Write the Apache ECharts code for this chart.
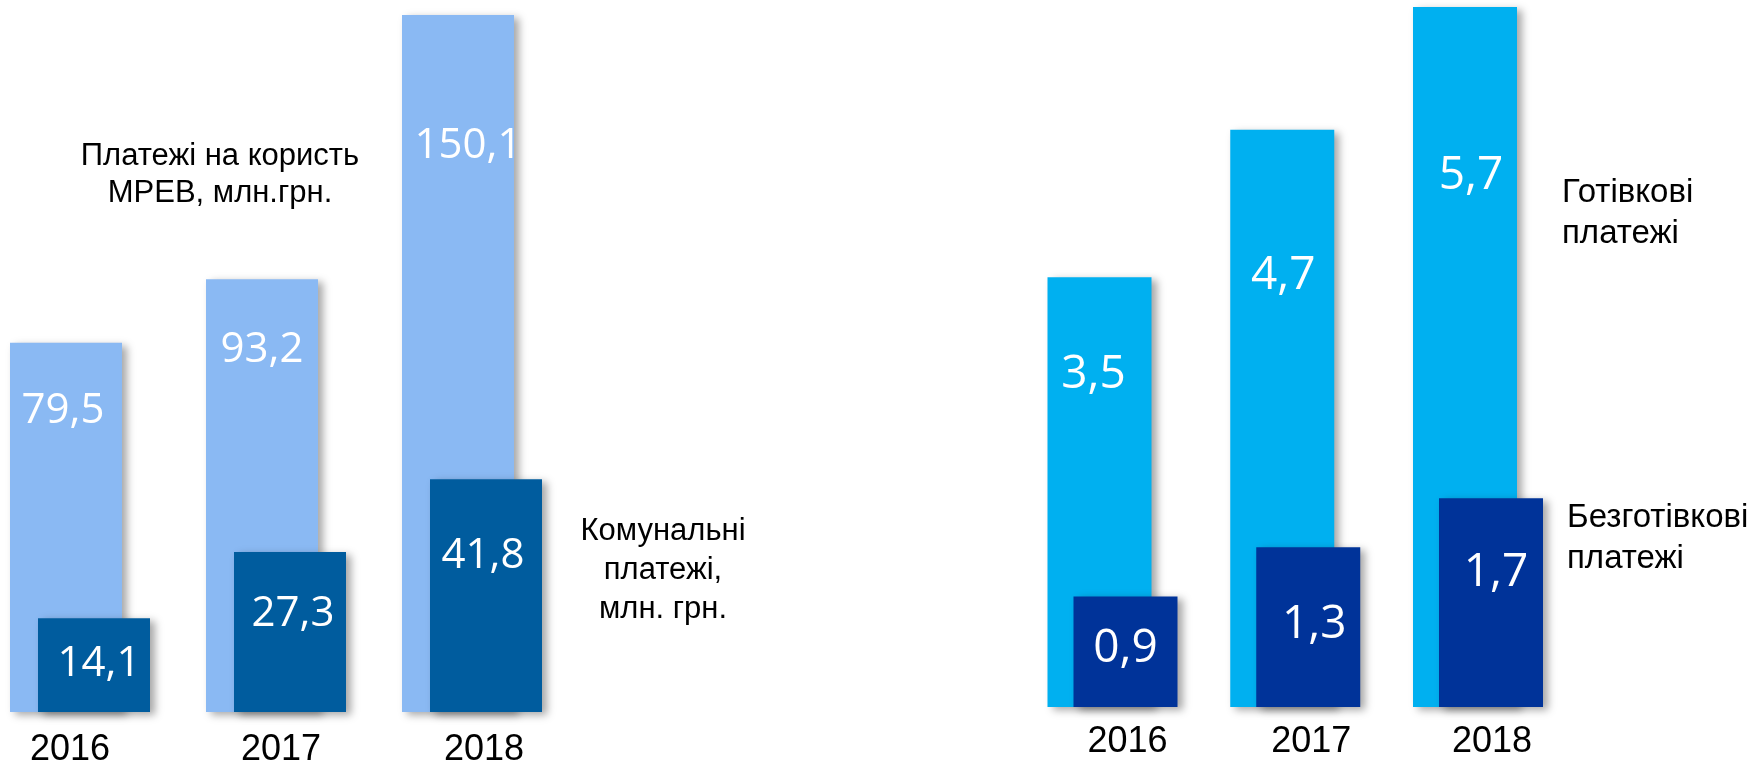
<!DOCTYPE html>
<html>
<head>
<meta charset="utf-8">
<title>Платежі</title>
<script src="https://cdn.jsdelivr.net/npm/echarts@6/dist/echarts.min.js"></script>
<style>
  html, body { margin: 0; padding: 0; background: #fff; }
  #main { width: 1764px; height: 762px; }
</style>
</head>
<body>
<div id="main"></div>
<script>
// роки
var years = ['2016', '2017', '2018'];
// платежі на користь МРЕВ, млн.грн.
var mrevPay = [79.5, 93.2, 150.1];
// комунальні платежі, млн. грн.
var utilityPay = [14.1, 27.3, 41.8];
// готівкові / безготівкові платежі
var cashPay = [3.5, 4.7, 5.7];
var cashlessPay = [0.9, 1.3, 1.7];

// зсув підписів усередині стовпців [dx, dy від верху стовпця]
var mrevLbl = [[-3, 68], [0, 71], [10, 131]];
var utilityLbl = [[5, 46], [3, 62], [-3, 77]];
var cashLbl = [[-6, 98], [1, 146], [6, 169]];
var cashlessLbl = [[0, 52], [6, 78], [5, 75]];
// зсув підписів років
var yearShiftL = [-10, 5, 12];
var yearShiftR = [15, 16, 14];

var chart = echarts.init(document.getElementById('main'));

var shadow = {
  shadowBlur: 8,
  shadowOffsetX: 5,
  shadowOffsetY: 3,
  shadowColor: 'rgba(0,0,0,0.35)'
};

function barData(vals, lbl, size) {
  return vals.map(function (v, i) {
    return {
      value: v,
      label: {
        position: ['50%', lbl[i][1]],
        offset: [lbl[i][0], 0],
        align: 'center',
        verticalAlign: 'middle',
        fontSize: size
      }
    };
  });
}

function barLabel() {
  return {
    show: true,
    color: '#fff',
    fontFamily: 'Open Sans',
    formatter: function (p) { return String(p.value).replace('.', ','); }
  };
}

function yearAxis(gridIndex, shift, margin) {
  var rich = {};
  shift.forEach(function (s, i) {
    rich['y' + i] = {
      fontFamily: 'Liberation Sans',
      fontSize: 36,
      color: '#000',
      padding: s < 0 ? [0, -2 * s, 0, 0] : [0, 0, 0, 2 * s]
    };
  });
  return {
    type: 'category',
    gridIndex: gridIndex,
    data: years,
    boundaryGap: false,
    axisLine: { show: false },
    axisTick: { show: false },
    splitLine: { show: false },
    axisLabel: {
      margin: margin,
      formatter: function (v, i) { return '{y' + i + '|' + v + '}'; },
      rich: rich
    }
  };
}

function hiddenY(gridIndex, min, max) {
  return {
    type: 'value',
    gridIndex: gridIndex,
    min: min,
    max: max,
    startValue: min,
    show: false,
    splitLine: { show: false }
  };
}

var option = {
  animation: false,
  backgroundColor: '#fff',
  // сітки: центри років 80/276/472 та 1112/1295/1478
  grid: [
    { left: 80, width: 392, top: 15, height: 697, outerBoundsMode: 'none' },
    { left: 1112.5, width: 365.5, top: 7, height: 700, outerBoundsMode: 'none' }
  ],
  xAxis: [
    yearAxis(0, yearShiftL, 20),
    yearAxis(1, yearShiftR, 17)
  ],
  yAxis: [
    hiddenY(0, 0, 150.1),
    // комунальні платежі мають власний масштаб, як в оригіналі
    hiddenY(0, -4.6, 134.3),
    hiddenY(1, 0, 5.7)
  ],
  series: [
    {
      name: 'Платежі на користь МРЕВ',
      type: 'bar',
      xAxisIndex: 0,
      yAxisIndex: 0,
      barWidth: 112,
      barGap: '-75%',
      clip: false,
      itemStyle: Object.assign({ color: '#8AB9F3' }, shadow),
      label: barLabel(),
      data: barData(mrevPay, mrevLbl, 42)
    },
    {
      name: 'Комунальні платежі',
      type: 'bar',
      xAxisIndex: 0,
      yAxisIndex: 1,
      barWidth: 112,
      barGap: '-75%',
      clip: false,
      itemStyle: Object.assign({ color: '#005C9E' }, shadow),
      label: barLabel(),
      data: barData(utilityPay, utilityLbl, 42)
    },
    {
      name: 'Готівкові платежі',
      type: 'bar',
      xAxisIndex: 1,
      yAxisIndex: 2,
      barWidth: 104,
      barGap: '-75%',
      clip: false,
      itemStyle: Object.assign({ color: '#00B0F0' }, shadow),
      label: barLabel(),
      data: barData(cashPay, cashLbl, 46)
    },
    {
      name: 'Безготівкові платежі',
      type: 'bar',
      xAxisIndex: 1,
      yAxisIndex: 2,
      barWidth: 104,
      barGap: '-75%',
      clip: false,
      itemStyle: Object.assign({ color: '#003399' }, shadow),
      label: barLabel(),
      data: barData(cashlessPay, cashlessLbl, 46)
    }
  ],
  graphic: [
    {
      type: 'text', x: 220, y: 175,
      style: {
        text: 'Платежі на користь\nМРЕВ, млн.грн.',
        font: '31px "Liberation Sans"', fill: '#000',
        textAlign: 'center', textVerticalAlign: 'middle', lineHeight: 37
      }
    },
    {
      type: 'text', x: 663, y: 570,
      style: {
        text: 'Комунальні\nплатежі,\nмлн. грн.',
        font: '31px "Liberation Sans"', fill: '#000',
        textAlign: 'center', textVerticalAlign: 'middle', lineHeight: 39
      }
    },
    {
      type: 'text', x: 1562, y: 213,
      style: {
        text: 'Готівкові\nплатежі',
        font: '33px "Liberation Sans"', fill: '#000',
        textAlign: 'left', textVerticalAlign: 'middle', lineHeight: 41
      }
    },
    {
      type: 'text', x: 1567, y: 538,
      style: {
        text: 'Безготівкові\nплатежі',
        font: '33px "Liberation Sans"', fill: '#000',
        textAlign: 'left', textVerticalAlign: 'middle', lineHeight: 41
      }
    }
  ]
};

chart.setOption(option);
</script>
</body>
</html>
